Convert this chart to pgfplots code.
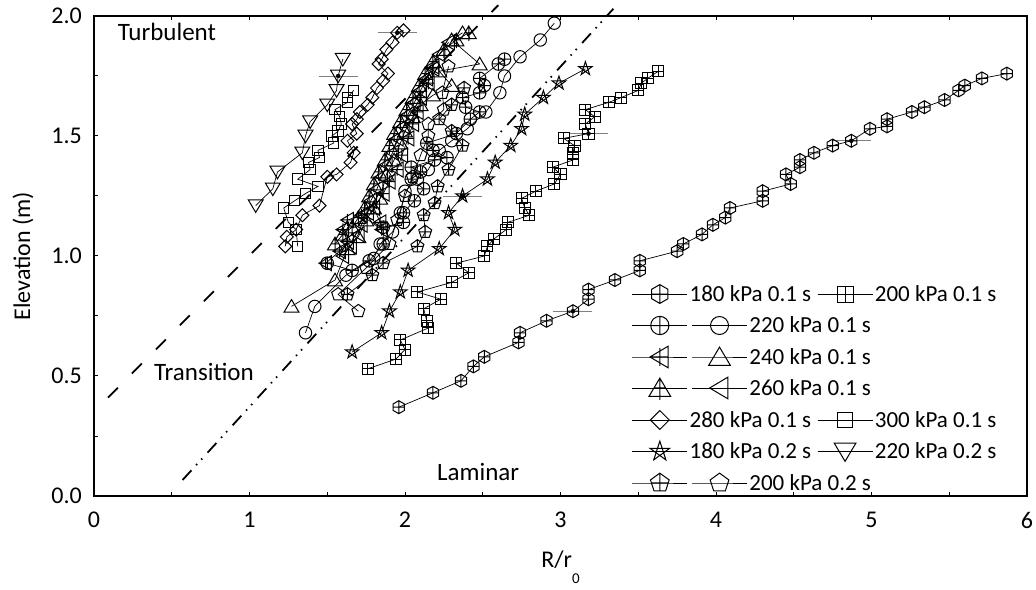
\documentclass[border=0pt]{standalone}
\usepackage{fontspec}
\setmainfont{Carlito}
\usepackage{pgfplots}
\pgfplotsset{compat=1.18}
\newcommand\ff{\fontsize{23}{27}\selectfont}
\newcommand\ft{\fontsize{24}{28}\selectfont}
\newcommand\fa{\fontsize{25}{29}\selectfont}
\newcommand\mR{\pgfplotmarksize}

\pgfdeclareplotmark{hexplus}{%
  \pgfpathmoveto{\pgfqpoint{0pt}{\mR}}%
  \pgfpathlineto{\pgfqpoint{-0.866\mR}{0.5\mR}}%
  \pgfpathlineto{\pgfqpoint{-0.866\mR}{-0.5\mR}}%
  \pgfpathlineto{\pgfqpoint{0pt}{-\mR}}%
  \pgfpathlineto{\pgfqpoint{0.866\mR}{-0.5\mR}}%
  \pgfpathlineto{\pgfqpoint{0.866\mR}{0.5\mR}}%
  \pgfpathclose
  \pgfpathmoveto{\pgfqpoint{0pt}{\mR}}\pgfpathlineto{\pgfqpoint{0pt}{-\mR}}%
  \pgfpathmoveto{\pgfqpoint{-0.866\mR}{0pt}}\pgfpathlineto{\pgfqpoint{0.866\mR}{0pt}}%
  \pgfusepathqstroke}
\pgfdeclareplotmark{sqplus}{%
  \pgfpathrectangle{\pgfqpoint{-0.85\mR}{-0.85\mR}}{\pgfqpoint{1.7\mR}{1.7\mR}}%
  \pgfpathmoveto{\pgfqpoint{0pt}{0.85\mR}}\pgfpathlineto{\pgfqpoint{0pt}{-0.85\mR}}%
  \pgfpathmoveto{\pgfqpoint{-0.85\mR}{0pt}}\pgfpathlineto{\pgfqpoint{0.85\mR}{0pt}}%
  \pgfusepathqstroke}
\pgfdeclareplotmark{sq}{%
  \pgfpathrectangle{\pgfqpoint{-0.8\mR}{-0.8\mR}}{\pgfqpoint{1.6\mR}{1.6\mR}}%
  \pgfusepathqstroke}
\pgfdeclareplotmark{tri}{%
  \pgfpathmoveto{\pgfqpoint{0pt}{\mR}}%
  \pgfpathlineto{\pgfqpoint{-1.1\mR}{-0.85\mR}}%
  \pgfpathlineto{\pgfqpoint{1.1\mR}{-0.85\mR}}%
  \pgfpathclose\pgfusepathqstroke}
\pgfdeclareplotmark{triplus}{%
  \pgfpathmoveto{\pgfqpoint{0pt}{\mR}}%
  \pgfpathlineto{\pgfqpoint{-1.1\mR}{-0.85\mR}}%
  \pgfpathlineto{\pgfqpoint{1.1\mR}{-0.85\mR}}%
  \pgfpathclose
  \pgfpathmoveto{\pgfqpoint{0pt}{\mR}}\pgfpathlineto{\pgfqpoint{0pt}{-1.2\mR}}%
  \pgfpathmoveto{\pgfqpoint{-0.6\mR}{0pt}}\pgfpathlineto{\pgfqpoint{0.6\mR}{0pt}}%
  \pgfusepathqstroke}
\pgfdeclareplotmark{ltriplus}{%
  \pgfpathmoveto{\pgfqpoint{-\mR}{0pt}}%
  \pgfpathlineto{\pgfqpoint{0.85\mR}{-1.1\mR}}%
  \pgfpathlineto{\pgfqpoint{0.85\mR}{1.1\mR}}%
  \pgfpathclose
  \pgfpathmoveto{\pgfqpoint{0pt}{0.9\mR}}\pgfpathlineto{\pgfqpoint{0pt}{-0.9\mR}}%
  \pgfpathmoveto{\pgfqpoint{-\mR}{0pt}}\pgfpathlineto{\pgfqpoint{0.85\mR}{0pt}}%
  \pgfusepathqstroke}
\pgfdeclareplotmark{pent}{%
  \pgfpathmoveto{\pgfqpoint{0pt}{\mR}}%
  \pgfpathlineto{\pgfqpoint{-0.951\mR}{0.309\mR}}%
  \pgfpathlineto{\pgfqpoint{-0.588\mR}{-0.809\mR}}%
  \pgfpathlineto{\pgfqpoint{0.588\mR}{-0.809\mR}}%
  \pgfpathlineto{\pgfqpoint{0.951\mR}{0.309\mR}}%
  \pgfpathclose\pgfusepathqstroke}
\pgfdeclareplotmark{pentplus}{%
  \pgfpathmoveto{\pgfqpoint{0pt}{\mR}}%
  \pgfpathlineto{\pgfqpoint{-0.951\mR}{0.309\mR}}%
  \pgfpathlineto{\pgfqpoint{-0.588\mR}{-0.809\mR}}%
  \pgfpathlineto{\pgfqpoint{0.588\mR}{-0.809\mR}}%
  \pgfpathlineto{\pgfqpoint{0.951\mR}{0.309\mR}}%
  \pgfpathclose
  \pgfpathmoveto{\pgfqpoint{0pt}{\mR}}\pgfpathlineto{\pgfqpoint{0pt}{-0.809\mR}}%
  \pgfpathmoveto{\pgfqpoint{-0.85\mR}{0pt}}\pgfpathlineto{\pgfqpoint{0.85\mR}{0pt}}%
  \pgfusepathqstroke}
\pgfdeclareplotmark{pstar}{%
  \pgfpathmoveto{\pgfqpoint{0pt}{1.1\mR}}%
  \pgfpathlineto{\pgfqpoint{-0.647\mR}{-0.890\mR}}%
  \pgfpathlineto{\pgfqpoint{1.046\mR}{0.340\mR}}%
  \pgfpathlineto{\pgfqpoint{-1.046\mR}{0.340\mR}}%
  \pgfpathlineto{\pgfqpoint{0.647\mR}{-0.890\mR}}%
  \pgfpathclose\pgfusepathqstroke}
\pgfdeclareplotmark{diam}{%
  \pgfpathmoveto{\pgfqpoint{0pt}{\mR}}%
  \pgfpathlineto{\pgfqpoint{\mR}{0pt}}%
  \pgfpathlineto{\pgfqpoint{0pt}{-\mR}}%
  \pgfpathlineto{\pgfqpoint{-\mR}{0pt}}%
  \pgfpathclose\pgfusepathqstroke}

\pgfplotsset{
  legend image code/.code={\draw[mark repeat=2,mark phase=2,#1,every mark/.append style={scale=1.45}] plot coordinates {(0pt,0pt)(27.5pt,0pt)(55pt,0pt)};},
  base/.style={scale only axis, width=933pt, height=480pt,
    xmin=0, xmax=6, ymin=0, ymax=2,
    legend columns=2,
    legend style={draw=none, fill=none, inner sep=0pt, outer sep=0pt, font=\ff, anchor=west, legend cell align=left}},
  row/.style={legend style={at={(0.5766,#1)}}},
  ser/.style={black, line width=0.7pt, mark size=6.5pt, every mark/.append style={solid, line width=1pt}},
}

\begin{document}
\begin{tikzpicture}
\path[use as bounding box] (-94pt,-93pt) rectangle (942pt,496pt);

% ---------- main axis, row 1 ----------
\begin{axis}[base, clip=false,
  axis line style={line width=1.5pt},
  xtick={0,1,2,3,4,5,6}, minor xtick={0.5,1.5,2.5,3.5,4.5,5.5},
  ytick={0,0.5,1,1.5,2}, minor ytick={0.25,0.75,1.25,1.75},
  xtick pos=both, ytick pos=left, tick align=inside,
  major tick length=4pt, minor tick length=4pt,
  tick style={black, line width=1pt},
  /pgf/number format/assume math mode=true,
  ticklabel style={font=\ft},
  xticklabel style={inner sep=0pt, yshift=-16pt},
  yticklabel style={inner sep=0pt, xshift=-12pt, /pgf/number format/.cd, fixed, fixed zerofill, precision=1},
  xlabel={R/r\raisebox{-16pt}{\fontsize{15}{15}\selectfont 0}},
  xlabel style={font=\ft, at={(axis description cs:0.5,-0.148)}, anchor=base},
  ylabel={Elevation (m)},
  ylabel style={font=\ft, at={(axis description cs:-0.076,0.5)}, anchor=center},
  row=0.4208, legend style={/tikz/every even column/.append style={column sep=4pt}},
]
\node[font=\fa] at (axis cs:0.469,1.933) {Turbulent};
\node[font=\fa] at (axis cs:0.707,0.517) {Transition};
\node[font=\fa] at (axis cs:2.47,0.10) {Laminar};
\addplot[forget plot, black, line width=1.8pt, dash pattern=on 14pt off 20pt] coordinates {(0.09,0.41)(2.60,2.045)};
\addplot[forget plot, black, line width=1.8pt, dash pattern=on 13pt off 7pt on 1.5pt off 6pt on 1.5pt off 8pt] coordinates {(0.57,0.067)(3.34,2.03)};

\addplot[ser, mark=hexplus] coordinates {(1.96,0.37)(2.18,0.43)(2.36,0.48)(2.44,0.54)(2.51,0.58)(2.73,0.64)(2.74,0.68)(2.91,0.73)(3.08,0.77)(3.18,0.82)(3.18,0.86)(3.35,0.90)(3.51,0.94)(3.51,0.98)(3.75,1.02)(3.79,1.05)(3.91,1.09)(3.98,1.13)(4.06,1.16)(4.09,1.20)(4.30,1.23)(4.30,1.27)(4.48,1.30)(4.45,1.34)(4.54,1.37)(4.54,1.40)(4.63,1.43)(4.75,1.46)(4.87,1.48)(4.99,1.53)(5.10,1.54)(5.10,1.57)(5.26,1.60)(5.34,1.62)(5.47,1.65)(5.56,1.69)(5.60,1.71)(5.71,1.74)(5.87,1.76)};
\addlegendentry{180 kPa 0.1 s}
\addplot[ser, mark=sqplus] coordinates {(1.76,0.53)(1.94,0.57)(2.00,0.61)(1.97,0.65)(2.15,0.70)(2.14,0.73)(2.12,0.78)(2.23,0.82)(2.08,0.85)(2.30,0.89)(2.41,0.93)(2.33,0.97)(2.51,1.00)(2.53,1.04)(2.57,1.07)(2.65,1.11)(2.66,1.14)(2.80,1.17)(2.77,1.20)(2.75,1.24)(2.84,1.27)(2.96,1.30)(3.00,1.34)(2.95,1.37)(3.08,1.40)(3.08,1.43)(3.09,1.46)(3.02,1.49)(3.18,1.51)(3.16,1.55)(3.22,1.58)(3.16,1.61)(3.31,1.64)(3.39,1.66)(3.50,1.69)(3.52,1.72)(3.56,1.74)(3.63,1.77)};
\addlegendentry{200 kPa 0.1 s}
\addplot[forget plot, only marks, mark=none, error bars/.cd, x dir=both, x explicit,
  error bar style={gray, line width=0.9pt}, error mark options={gray, mark size=4pt, line width=0.9pt}]
  coordinates {(3.08,0.77) +- (0.10,0) (4.87,1.48) +- (0.10,0) (3.18,1.51) +- (0.10,0) (2.37,1.25) +- (0.10,0) (1.57,1.75) +- (0.10,0) (1.95,1.93) +- (0.10,0)};
\end{axis}

% ---------- row 2 ----------
\begin{axis}[base, hide axis, row=0.3552, legend style={/tikz/every even column/.append style={column sep=0pt}}]
\addplot[ser, mark=oplus, mark size=6.3pt] coordinates {(1.50,0.97)(1.66,0.94)(1.77,0.98)(1.86,1.05)(1.86,1.12)(1.99,1.14)(1.99,1.18)(2.06,1.23)(2.12,1.28)(2.04,1.32)(2.10,1.35)(2.04,1.37)(2.19,1.40)(2.27,1.41)(2.18,1.44)(2.14,1.47)(2.33,1.51)(2.42,1.57)(2.48,1.60)(2.39,1.62)(2.37,1.66)(2.48,1.68)(2.51,1.71)(2.48,1.74)(2.60,1.80)(2.64,1.82)};
\addlegendentry{}
\addplot[ser, mark=o, mark size=6.2pt] coordinates {(1.36,0.68)(1.42,0.79)(1.62,0.92)(1.80,0.99)(1.84,1.05)(1.92,1.10)(1.97,1.18)(2.00,1.27)(2.08,1.32)(2.15,1.36)(2.22,1.44)(2.30,1.48)(2.40,1.53)(2.52,1.60)(2.61,1.68)(2.64,1.75)(2.74,1.83)(2.87,1.90)(2.96,1.97)};
\addlegendentry{220 kPa 0.1 s}
\end{axis}

% ---------- row 3 ----------
\begin{axis}[base, hide axis, row=0.2896, legend style={/tikz/every even column/.append style={column sep=0pt}}]
\addplot[ser, mark=ltriplus, mark size=6.8pt] coordinates {(1.49,0.97)(1.58,1.02)(1.63,1.06)(1.60,1.11)(1.63,1.15)(1.72,1.17)(1.85,1.11)(1.84,1.14)(1.80,1.20)(1.86,1.26)(1.90,1.31)(1.95,1.36)(1.98,1.42)(2.02,1.49)(2.05,1.55)(2.08,1.60)(2.10,1.66)(2.15,1.72)(2.18,1.78)};
\addlegendentry{}
\addplot[ser, mark=tri, mark size=6.8pt] coordinates {(1.27,0.79)(1.55,0.90)(1.63,1.03)(1.70,1.08)(1.75,1.15)(1.80,1.20)(1.84,1.24)(1.88,1.34)(1.93,1.40)(1.97,1.47)(2.00,1.52)(2.05,1.58)(2.10,1.63)(2.18,1.67)(2.30,1.71)(2.22,1.77)(2.48,1.80)(2.30,1.90)(2.37,1.93)};
\addlegendentry{240 kPa 0.1 s}
\end{axis}

% ---------- row 4 ----------
\begin{axis}[base, hide axis, row=0.2240, legend style={/tikz/every even column/.append style={column sep=0pt}}]
\addplot[ser, mark=triplus, mark size=6.8pt] coordinates {(1.55,1.05)(1.60,1.09)(1.66,1.12)(1.70,1.16)(1.74,1.20)(1.77,1.25)(1.80,1.30)(1.83,1.35)(1.87,1.40)(1.90,1.46)(1.93,1.51)(1.97,1.56)(2.01,1.61)(2.05,1.66)(2.09,1.71)(2.13,1.76)(2.18,1.81)(2.25,1.86)(2.33,1.90)(2.41,1.93)};
\addlegendentry{}
\addplot[ser, mark=tri, mark size=6.8pt, every mark/.append style={rotate=90}] coordinates {(1.60,1.00)(1.65,1.04)(1.70,1.09)(1.72,1.13)(1.76,1.18)(1.78,1.23)(1.82,1.28)(1.85,1.33)(1.88,1.38)(1.92,1.43)(1.95,1.49)(1.99,1.54)(2.02,1.59)(2.06,1.64)(2.10,1.69)(2.14,1.74)(2.18,1.79)(2.22,1.84)(2.28,1.89)};
\addlegendentry{260 kPa 0.1 s}
\end{axis}

% ---------- row 5 ----------
\begin{axis}[base, hide axis, row=0.1583, legend style={/tikz/every even column/.append style={column sep=4pt}}]
\addplot[ser, mark=diam] coordinates {(1.23,1.04)(1.24,1.08)(1.30,1.11)(1.34,1.17)(1.45,1.21)(1.50,1.33)(1.56,1.34)(1.65,1.39)(1.67,1.43)(1.63,1.48)(1.69,1.51)(1.66,1.55)(1.69,1.57)(1.71,1.60)(1.76,1.63)(1.79,1.66)(1.82,1.70)(1.86,1.73)(1.89,1.76)(1.83,1.80)(1.85,1.82)(1.88,1.86)(1.92,1.89)(1.95,1.93)(1.99,1.94)};
\addlegendentry{280 kPa 0.1 s}
\addplot[ser, mark=sq] coordinates {(1.31,1.04)(1.30,1.11)(1.25,1.14)(1.22,1.20)(1.29,1.23)(1.36,1.26)(1.44,1.29)(1.31,1.32)(1.39,1.36)(1.38,1.39)(1.45,1.41)(1.44,1.44)(1.54,1.47)(1.53,1.50)(1.57,1.52)(1.59,1.55)(1.58,1.58)(1.55,1.61)(1.63,1.64)(1.63,1.66)(1.67,1.69)};
\addlegendentry{300 kPa 0.1 s}
\end{axis}

% ---------- row 6 ----------
\begin{axis}[base, hide axis, row=0.0927, legend style={/tikz/every even column/.append style={column sep=4pt}}]
\addplot[ser, mark=pstar] coordinates {(1.66,0.60)(1.85,0.68)(1.90,0.77)(1.97,0.85)(2.02,0.94)(2.22,1.03)(2.32,1.11)(2.28,1.18)(2.37,1.25)(2.53,1.32)(2.58,1.39)(2.68,1.46)(2.75,1.53)(2.77,1.59)(2.89,1.66)(2.99,1.72)(3.16,1.78)};
\addlegendentry{180 kPa 0.2 s}
\addplot[ser, mark=tri, mark size=6.8pt, every mark/.append style={rotate=180}] coordinates {(1.04,1.21)(1.15,1.28)(1.18,1.35)(1.34,1.43)(1.36,1.50)(1.39,1.56)(1.50,1.63)(1.56,1.69)(1.57,1.75)(1.60,1.82)};
\addlegendentry{220 kPa 0.2 s}
\end{axis}

% ---------- row 7 ----------
\begin{axis}[base, hide axis, row=0.0271, legend style={/tikz/every even column/.append style={column sep=0pt}}]
\addplot[ser, mark=pentplus, mark size=6.8pt] coordinates {(1.63,0.84)(1.79,0.92)(1.86,0.97)(2.08,1.04)(2.13,1.10)(2.12,1.17)(2.19,1.22)(2.21,1.29)(2.28,1.36)(2.37,1.46)(2.30,1.52)(2.22,1.57)(2.30,1.63)(2.38,1.70)};
\addlegendentry{}
\addplot[ser, mark=pent, mark size=6.8pt] coordinates {(1.70,0.77)(1.57,0.84)(1.75,0.95)(1.90,1.05)(1.95,1.15)(2.00,1.25)(2.05,1.33)(2.10,1.42)(2.15,1.50)(2.15,1.55)(2.25,1.61)(2.24,1.68)(2.28,1.79)};
\addlegendentry{200 kPa 0.2 s}
\end{axis}
\end{tikzpicture}
\end{document}
